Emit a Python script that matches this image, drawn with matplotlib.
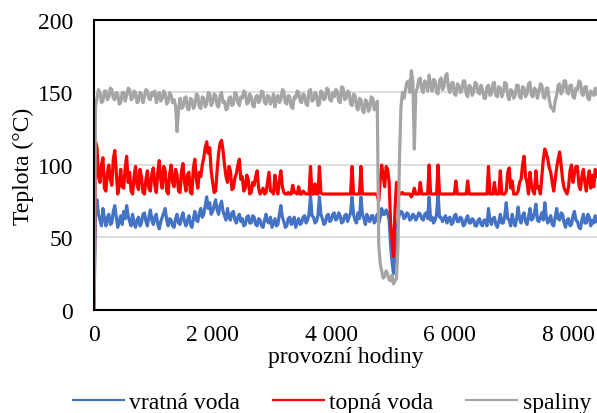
import numpy as np
import matplotlib
matplotlib.use("Agg")
import matplotlib.pyplot as plt
from matplotlib.ticker import FixedLocator

step = 25  # hours between readings, one row below = 20 readings = 500 h

spaliny = [
    0, 140, 146, 152, 150, 143, 144, 151, 151, 145, 147, 153, 152, 146, 145, 150, 149, 142, 143, 150,
    150, 144, 148, 153, 152, 145, 146, 151, 150, 143, 144, 150, 149, 143, 147, 152, 151, 146, 145, 150,
    148, 151, 143, 147, 150, 144, 146, 151, 149, 142, 144, 150, 148, 143, 145, 141, 123, 138, 146, 139,
    140, 146, 147, 139, 138, 146, 145, 139, 141, 149, 148, 140, 139, 147, 146, 140, 142, 150, 149, 141,
    143, 149, 148, 141, 140, 148, 150, 143, 144, 138, 139, 146, 147, 141, 142, 150, 149, 143, 141, 147,
    146, 151, 150, 142, 143, 149, 147, 141, 140, 147, 148, 143, 145, 151, 150, 143, 142, 148, 147, 142,
    144, 149, 140, 146, 148, 143, 145, 152, 151, 143, 142, 148, 147, 140, 139, 147, 146, 151, 150, 144,
    143, 149, 148, 142, 141, 151, 152, 144, 145, 150, 149, 141, 142, 151, 150, 145, 146, 153, 152, 145,
    144, 150, 147, 152, 151, 144, 143, 154, 153, 145, 146, 151, 150, 142, 141, 149, 148, 140, 138, 146,
    145, 138, 136, 145, 144, 137, 139, 147, 146, 138, 140, 144, 45, 32, 27, 22, 23, 27, 25, 21,
    20, 24, 18, 20, 22, 45, 105, 140, 150, 146, 152, 157, 158, 150, 165, 158, 111, 150, 153, 159,
    160, 152, 150, 158, 157, 151, 162, 155, 151, 159, 158, 150, 149, 158, 160, 152, 154, 161, 163, 153,
    150, 156, 157, 149, 148, 156, 155, 150, 151, 158, 158, 149, 147, 155, 154, 148, 150, 157, 156, 150,
    149, 155, 152, 146, 146, 154, 155, 148, 149, 156, 157, 148, 147, 154, 153, 147, 150, 157, 156, 148,
    145, 152, 151, 146, 148, 155, 155, 147, 146, 154, 153, 147, 149, 156, 157, 148, 147, 153, 152, 146,
    150, 156, 155, 147, 146, 153, 153, 145, 140, 139, 137, 144, 148, 155, 156, 149, 151, 158, 158, 150,
    149, 155, 155, 147, 146, 153, 152, 158, 157, 149, 148, 154, 154, 146, 145, 151, 150, 148, 153, 149,
]

topna = [
    0, 116, 112, 92, 88, 100, 105, 84, 82, 95, 100, 90, 86, 104, 110, 95, 80, 86, 97, 85,
    84, 98, 106, 88, 95, 82, 80, 92, 99, 86, 83, 97, 92, 81, 80, 90, 96, 84, 82, 94,
    98, 86, 81, 95, 103, 90, 84, 99, 96, 82, 80, 94, 100, 88, 85, 97, 93, 82, 81, 96,
    101, 88, 82, 93, 95, 81, 80, 98, 104, 90, 84, 95, 92, 100, 105, 112, 116, 108, 112, 96,
    88, 81, 82, 96, 108, 115, 117, 110, 100, 92, 88, 99, 96, 83, 84, 91, 94, 100, 104, 90,
    92, 82, 84, 93, 90, 80, 81, 88, 86, 92, 96, 84, 80, 82, 84, 80, 81, 88, 95, 82,
    82, 80, 93, 84, 80, 90, 96, 85, 81, 80, 80, 81, 80, 80, 86, 81, 81, 80, 85, 80,
    80, 82, 81, 80, 80, 80, 99, 80, 80, 87, 80, 80, 99, 81, 80, 80, 80, 80, 80, 80,
    80, 80, 80, 80, 80, 80, 80, 80, 80, 80, 80, 80, 80, 80, 99, 80, 80, 80, 80, 80,
    99, 80, 80, 80, 80, 80, 80, 80, 80, 80, 80, 79, 75, 90, 100, 92, 85, 99, 97, 88,
    60, 48, 37, 70, 88, 84, 80, 80, 81, 80, 80, 80, 80, 80, 78, 80, 84, 80, 80, 80,
    88, 80, 80, 80, 80, 80, 100, 80, 80, 80, 80, 80, 100, 80, 80, 80, 80, 80, 80, 80,
    80, 80, 80, 80, 89, 80, 80, 80, 80, 80, 80, 80, 89, 80, 80, 80, 80, 80, 80, 80,
    80, 80, 80, 80, 80, 80, 99, 80, 80, 80, 88, 80, 80, 80, 96, 80, 80, 80, 82, 95,
    98, 84, 89, 80, 80, 80, 82, 88, 90, 100, 106, 92, 88, 80, 95, 86, 82, 80, 96, 84,
    85, 80, 92, 104, 111, 108, 104, 98, 95, 88, 82, 90, 98, 104, 109, 100, 90, 84, 82, 80,
    85, 96, 100, 88, 94, 99, 99, 86, 83, 92, 97, 88, 82, 90, 96, 84, 93, 85, 97, 92,
]

vratna = [
    0, 70, 76, 66, 62, 58, 70, 63, 58, 64, 66, 59, 60, 68, 72, 64, 57, 61, 65, 59,
    68, 63, 72, 65, 61, 58, 66, 60, 57, 62, 64, 58, 60, 66, 67, 61, 58, 64, 69, 62,
    59, 64, 66, 59, 56, 61, 64, 67, 70, 62, 58, 63, 62, 58, 57, 63, 66, 60, 59, 64,
    67, 61, 58, 62, 65, 59, 57, 63, 68, 62, 61, 67, 70, 64, 66, 72, 78, 70, 74, 66,
    68, 72, 76, 69, 66, 72, 75, 68, 65, 62, 70, 64, 62, 67, 68, 62, 60, 64, 66, 61,
    63, 58, 59, 64, 65, 60, 60, 65, 64, 59, 58, 63, 62, 58, 57, 62, 66, 61, 60, 64,
    57, 60, 63, 58, 59, 66, 72, 64, 61, 57, 58, 63, 64, 59, 60, 64, 57, 61, 63, 59,
    60, 64, 65, 60, 62, 66, 79, 65, 64, 60, 61, 65, 78, 66, 63, 59, 60, 65, 66, 61,
    62, 66, 67, 62, 63, 67, 65, 60, 61, 65, 66, 61, 64, 67, 78, 66, 62, 60, 67, 63,
    78, 66, 63, 59, 66, 62, 61, 65, 65, 60, 62, 66, 60, 64, 70, 66, 66, 69, 67, 62,
    45, 33, 25, 38, 50, 62, 66, 68, 67, 63, 64, 67, 66, 62, 63, 66, 65, 62, 64, 67,
    66, 63, 62, 66, 67, 63, 78, 62, 64, 60, 62, 66, 80, 64, 64, 61, 63, 65, 60, 63,
    64, 59, 60, 65, 66, 61, 61, 64, 63, 58, 59, 63, 65, 60, 60, 63, 62, 58, 58, 62,
    63, 59, 58, 62, 62, 58, 70, 62, 59, 63, 64, 59, 57, 61, 66, 60, 60, 65, 74, 63,
    62, 58, 66, 61, 58, 63, 71, 63, 60, 65, 67, 61, 59, 64, 70, 62, 63, 67, 73, 62,
    61, 64, 67, 62, 74, 64, 60, 63, 65, 59, 58, 64, 70, 63, 62, 67, 66, 60, 57, 62,
    63, 58, 59, 65, 68, 62, 61, 57, 56, 62, 66, 60, 60, 66, 64, 58, 62, 60, 65, 61,
]

x_ticks = [0, 2000, 4000, 6000, 8000]
x_tick_labels = ["0", "2 000", "4 000", "6 000", "8 000"]
y_ticks = [0, 50, 100, 150, 200]

plt.rcParams['font.family'] = ['Liberation Serif', 'DejaVu Serif']
fs = 17

fig = plt.figure(figsize=(5.97, 4.14), dpi=100)
ax = fig.add_axes([0.1575, 0.2488, 0.8425, 0.7005])

ax.plot(np.arange(len(vratna)) * step, vratna, color='#4472C4', lw=2.3, label='vratná voda')
ax.plot(np.arange(len(topna)) * step, topna, color='#FF0000', lw=2.3, label='topná voda')
ax.plot(np.arange(len(spaliny)) * step, spaliny, color='#A5A5A5', lw=2.3, label='spaliny')

ax.set_xlim(0, 8480)
ax.set_ylim(0, 200)
ax.xaxis.set_major_locator(FixedLocator(x_ticks))
ax.set_xticklabels(x_tick_labels)
ax.yaxis.set_major_locator(FixedLocator(y_ticks))
ax.tick_params(length=0, labelsize=fs)
ax.tick_params(axis='y', pad=15)
ax.tick_params(axis='x', pad=10)

ax.grid(axis='y', color='#D9D9D9', lw=1.2)
ax.set_axisbelow(True)
for side in ['left', 'bottom', 'top']:
    ax.spines[side].set_color('black')
    ax.spines[side].set_linewidth(1.5)
ax.spines['right'].set_visible(False)

ax.set_ylabel('Teplota (°C)', fontsize=fs, labelpad=3)
ax.set_xlabel('provozní hodiny', fontsize=fs, labelpad=1)

leg = fig.legend(loc='center', bbox_to_anchor=(0.556, 0.026), ncol=3, frameon=False,
                 fontsize=fs, handlelength=2.16, handletextpad=0.22, columnspacing=1.4,
                 borderpad=0.1, borderaxespad=0)
for line in leg.get_lines():
    line.set_linewidth(1.6)

fig.savefig('out.png', dpi=100)
